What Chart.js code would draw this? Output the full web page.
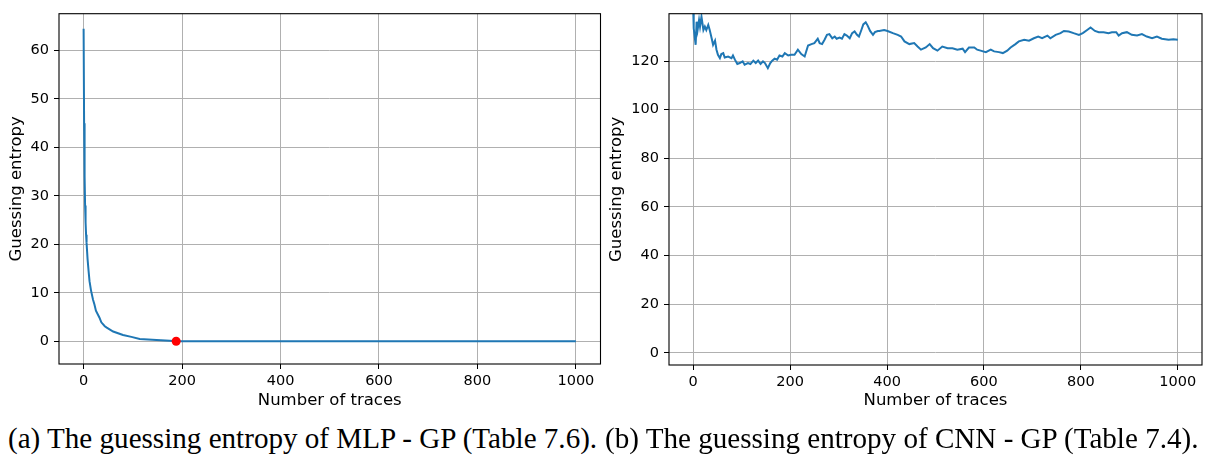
<!DOCTYPE html>
<html>
<head>
<meta charset="utf-8">
<script src="https://cdn.jsdelivr.net/npm/chart.js@4.4.1/dist/chart.umd.min.js"></script>
<style>
  html, body { margin: 0; padding: 0; background: #fff; }
  body { width: 1207px; height: 461px; position: relative; overflow: hidden; }
  canvas { position: absolute; top: 0; }
  #chartA { left: 0; }
  #chartB { left: 600px; }
  .cap { position: absolute; top: 424px; font-family: 'Liberation Serif', 'Times New Roman', serif; font-size: 29.1px; line-height: 29px; white-space: nowrap; color: #000; }
</style>
</head>
<body>
<canvas id="chartA" width="605" height="420"></canvas>
<canvas id="chartB" width="607" height="420"></canvas>
<div class="cap" style="left: 8px;">(a) The guessing entropy of MLP - GP (Table 7.6).</div>
<div class="cap" style="left: 605px;">(b) The guessing entropy of CNN - GP (Table 7.4).</div>
<script>
// valores (numero de traces x guessing entropy)
const xTicks = [0, 200, 400, 600, 800, 1000];
const yTicksA = [0, 10, 20, 30, 40, 50, 60];
const yTicksB = [0, 20, 40, 60, 80, 100, 120];

// (a) MLP - GP
const tracesA = [0, 1, 2, 3, 4, 5, 6, 8, 10, 12, 15, 19, 22, 25, 32, 36, 43, 47, 60, 80, 97, 114, 148, 175, 188, 1000];
const geA = [64.5, 45.0, 34.0, 28.0, 24.5, 22.0, 20.3, 17.0, 14.6, 12.4, 10.5, 8.6, 7.6, 6.3, 4.9, 3.9, 3.1, 2.8, 2.0, 1.3, 0.9, 0.46, 0.25, 0.08, 0, 0];

// ponto vermelho: primeiro trace com GE = 0
const dotX = [188];
const dotY = [0];

// (b) CNN - GP
const tracesB = [0, 1, 5, 7, 9, 12, 14, 17, 21, 24, 27, 31, 34, 38, 41, 45, 48, 51, 55, 58,
  62, 65, 72, 79, 82, 86, 91, 96, 102, 106, 113, 118, 124, 129, 134, 139, 144, 148, 154, 159,
  163, 168, 173, 178, 184, 189, 196, 202, 209, 216, 223, 230, 237, 244, 250, 257, 261, 266, 271, 276,
  281, 287, 292, 296, 302, 307, 312, 317, 323, 328, 333, 338, 342, 347, 351, 356, 360, 365, 371, 375,
  381, 384, 394, 401, 412, 422, 429, 436, 446, 456, 463, 470, 480, 488, 495, 504, 514, 525, 535, 545,
  556, 561, 569, 580, 586, 593, 604, 614, 621, 631, 639, 648, 655, 665, 672, 683, 693, 703, 712, 720,
  731, 737, 748, 758, 765, 775, 785, 796, 804, 813, 820, 829, 837, 847, 857, 864, 873, 878, 885, 895,
  905, 916, 926, 936, 947, 957, 967, 981, 991, 1000];
const geB = [141, 133.5, 126.7, 136.2, 132.8, 136.9, 134.2, 138.3, 132.8, 134.2, 132.8, 134.9, 132.8, 129.4, 126.7, 128.4, 124.7, 122.6, 121.2, 122.9,
  123.3, 121.5, 121.9, 121.2, 122.3, 120.6, 118.8, 119.2, 119.9, 118.5, 119.2, 118.8, 120.2, 119.2, 120.2, 118.8, 119.9, 119.2, 117.1, 119.2,
  120.2, 121.0, 120.6, 122.3, 121.9, 123.3, 122.3, 122.6, 122.6, 124.7, 122.9, 121.9, 126.4, 127.0, 127.4, 129.2, 127.4, 127.0, 128.8, 130.8,
  131.1, 129.4, 130.1, 129.2, 129.7, 129.2, 131.1, 130.5, 129.4, 131.5, 132.2, 130.8, 130.1, 132.8, 135.1, 136.0, 134.6, 132.4, 130.8, 131.9,
  132.4, 132.4, 132.8, 132.4, 131.5, 130.8, 130.1, 128.1, 127.0, 127.4, 126.0, 124.7, 125.6, 127.0, 125.3, 124.3, 126.0, 125.3, 125.3, 124.7,
  125.1, 123.7, 125.6, 125.6, 124.7, 124.3, 123.7, 124.7, 124.0, 123.7, 123.3, 124.3, 125.6, 127.0, 128.1, 128.8, 128.4, 129.4, 130.1, 129.4,
  130.5, 129.4, 130.8, 131.5, 132.4, 132.2, 131.5, 130.8, 131.5, 132.8, 133.8, 132.4, 131.9, 131.9, 131.5, 131.9, 131.9, 130.5, 131.5, 131.9,
  130.8, 130.5, 131.1, 130.1, 129.4, 130.1, 129.2, 128.8, 129.0, 128.8];

const LINE_BLUE = '#1f77b4';
const tickFont = { family: 'DejaVu Sans', size: 14.5 };
const titleFont = { family: 'DejaVu Sans', size: 16.5 };

function pts(xs, ys) { return xs.map((x, i) => ({ x: x, y: ys[i] })); }

// moldura preta em volta da area do grafico (spines do matplotlib)
const framePlugin = {
  id: 'frame',
  afterDraw(chart) {
    const a = chart.chartArea, ctx = chart.ctx;
    ctx.save();
    ctx.strokeStyle = '#000';
    ctx.lineWidth = 1.1;
    ctx.strokeRect(a.left, a.top, a.right - a.left, a.bottom - a.top);
    ctx.restore();
  }
};

function baseOptions(cfg) {
  return {
    responsive: false,
    animation: false,
    layout: { padding: { top: cfg.top, right: cfg.right, left: 0, bottom: 0 } },
    plugins: { legend: { display: false }, tooltip: { enabled: false } },
    scales: {
      x: {
        type: 'linear', min: -50, max: 1050,
        afterBuildTicks: s => { s.ticks = xTicks.map(v => ({ value: v })); },
        afterFit: s => { s.height = cfg.xH; },
        grid: { color: '#b0b0b0', lineWidth: 1, tickColor: '#000', tickLength: 5 },
        border: { display: false },
        ticks: { font: tickFont, color: '#000', padding: 4, maxRotation: 0, autoSkip: false, callback: v => String(v) },
        title: { display: true, text: 'Number of traces', font: titleFont, color: '#000', padding: { top: 0, bottom: 9 } }
      },
      y: {
        type: 'linear', min: cfg.yMin, max: cfg.yMax,
        afterBuildTicks: s => { s.ticks = cfg.yTicks.map(v => ({ value: v })); },
        afterFit: s => { s.width = cfg.left; },
        grid: { color: '#b0b0b0', lineWidth: 1, tickColor: '#000', tickLength: 5 },
        border: { display: false },
        ticks: { font: tickFont, color: '#000', padding: 5, autoSkip: false, callback: v => String(v) },
        title: { display: true, text: 'Guessing entropy', font: titleFont, color: '#000', padding: { top: 7, bottom: 0 } }
      }
    }
  };
}

new Chart(document.getElementById('chartA').getContext('2d'), {
  type: 'line',
  data: {
    datasets: [
      { type: 'scatter', data: pts(dotX, dotY), backgroundColor: '#ff0000', borderColor: '#ff0000', pointRadius: 4.5, borderWidth: 0 },
      { data: pts(tracesA, geA), borderColor: LINE_BLUE, borderWidth: 2, pointRadius: 0, tension: 0, fill: false }
    ]
  },
  options: baseOptions({ top: 5, right: 3, left: 59, xH: 56, yMin: -4.7, yMax: 67.6, yTicks: yTicksA }),
  plugins: [framePlugin]
});

new Chart(document.getElementById('chartB').getContext('2d'), {
  type: 'line',
  data: {
    datasets: [
      { data: pts(tracesB, geB), borderColor: LINE_BLUE, borderWidth: 2, pointRadius: 0, tension: 0, fill: false, clip: 0 }
    ]
  },
  options: baseOptions({ top: 12, right: 5, left: 69, xH: 55, yMin: -5, yMax: 139.5, yTicks: yTicksB }),
  plugins: [framePlugin]
});
</script>
</body>
</html>
